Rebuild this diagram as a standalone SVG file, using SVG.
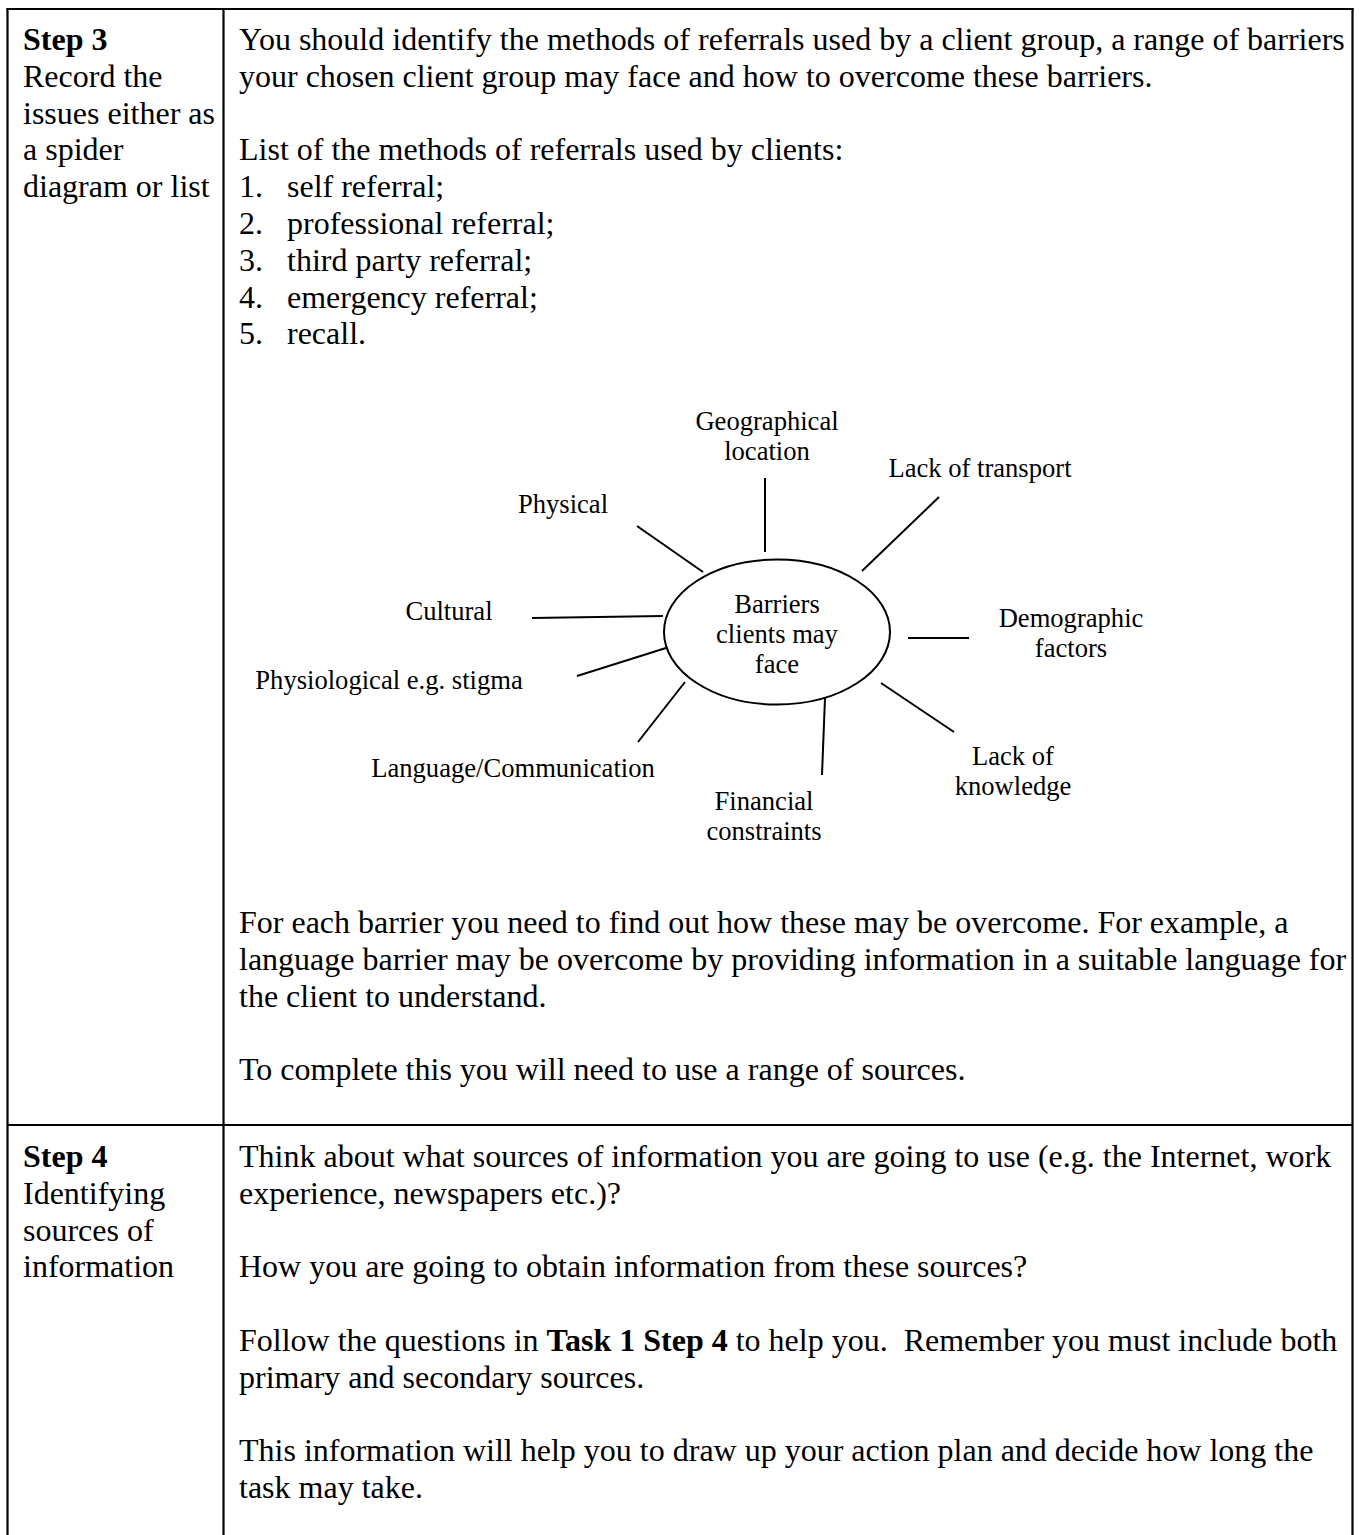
<svg xmlns="http://www.w3.org/2000/svg" width="1362" height="1535" viewBox="0 0 1362 1535">
  <style>
    .t { font-family: "Liberation Serif", "Times New Roman", serif; font-size: 32px; fill: #000; }
    .b { font-weight: bold; }
    .s { font-family: "Liberation Serif", "Times New Roman", serif; font-size: 26.6px; fill: #000; text-anchor: middle; }
    .border { stroke: #000; stroke-width: 2.2; fill: none; }
    .conn { stroke: #000; stroke-width: 2; fill: none; }
  </style>
  <rect width="1362" height="1535" fill="#fff"/>

  <g id="table">
    <line class="border" x1="6.5" y1="9" x2="1353.5" y2="9"/>
    <line class="border" x1="7.5" y1="8" x2="7.5" y2="1535"/>
    <line class="border" x1="1352.5" y1="8" x2="1352.5" y2="1535"/>
    <line class="border" x1="223.5" y1="9" x2="223.5" y2="1535"/>
    <line class="border" x1="7.5" y1="1125" x2="1352.5" y2="1125"/>
  </g>

  <g id="step3-label">
    <text class="t b" x="23" y="50">Step 3</text>
    <text class="t" x="23" y="86.8">Record the</text>
    <text class="t" x="23" y="123.6">issues either as</text>
    <text class="t" x="23" y="160.4">a spider</text>
    <text class="t" x="23" y="197.2">diagram or list</text>
  </g>

  <g id="step3-text">
    <text class="t" x="239" y="50">You should identify the methods of referrals used by a client group, a range of barriers</text>
    <text class="t" x="239" y="86.8">your chosen client group may face and how to overcome these barriers.</text>
    <text class="t" x="239" y="160.4">List of the methods of referrals used by clients:</text>
    <text class="t" x="239" y="197.2">1.</text><text class="t" x="287" y="197.2">self referral;</text>
    <text class="t" x="239" y="234">2.</text><text class="t" x="287" y="234">professional referral;</text>
    <text class="t" x="239" y="270.8">3.</text><text class="t" x="287" y="270.8">third party referral;</text>
    <text class="t" x="239" y="307.6">4.</text><text class="t" x="287" y="307.6">emergency referral;</text>
    <text class="t" x="239" y="344.4">5.</text><text class="t" x="287" y="344.4">recall.</text>
  </g>

  <g id="connectors">
    <line class="conn" x1="765" y1="478" x2="765" y2="552"/>
    <line class="conn" x1="939" y1="497" x2="862" y2="571"/>
    <line class="conn" x1="637" y1="526" x2="703" y2="572"/>
    <line class="conn" x1="532" y1="618" x2="663" y2="616"/>
    <line class="conn" x1="908" y1="638" x2="969" y2="638"/>
    <line class="conn" x1="577" y1="676" x2="666" y2="648"/>
    <line class="conn" x1="638" y1="742" x2="685" y2="682"/>
    <line class="conn" x1="822" y1="775" x2="825" y2="698"/>
    <line class="conn" x1="881" y1="683" x2="954" y2="732"/>
  </g>

  <g id="center">
    <ellipse cx="777" cy="632" rx="113" ry="72.5" fill="#fff" stroke="#000" stroke-width="2"/>
    <text class="s" x="777" y="613">Barriers</text>
    <text class="s" x="777" y="643">clients may</text>
    <text class="s" x="777" y="673">face</text>
  </g>

  <g id="geographical"><text class="s" x="767" y="430">Geographical</text><text class="s" x="767" y="460">location</text></g>
  <g id="transport"><text class="s" x="980" y="477">Lack of transport</text></g>
  <g id="physical"><text class="s" x="563" y="513">Physical</text></g>
  <g id="cultural"><text class="s" x="449" y="620">Cultural</text></g>
  <g id="demographic"><text class="s" x="1071" y="627">Demographic</text><text class="s" x="1071" y="657">factors</text></g>
  <g id="physiological"><text class="s" x="389" y="689">Physiological e.g. stigma</text></g>
  <g id="language"><text class="s" x="513" y="777">Language/Communication</text></g>
  <g id="knowledge"><text class="s" x="1013" y="765">Lack of</text><text class="s" x="1013" y="795">knowledge</text></g>
  <g id="financial"><text class="s" x="764" y="810">Financial</text><text class="s" x="764" y="840">constraints</text></g>

  <g id="step3-text-bottom">
    <text class="t" x="239" y="933">For each barrier you need to find out how these may be overcome. For example, a</text>
    <text class="t" x="239" y="969.8">language barrier may be overcome by providing information in a suitable language for</text>
    <text class="t" x="239" y="1006.6">the client to understand.</text>
    <text class="t" x="239" y="1080.2">To complete this you will need to use a range of sources.</text>
  </g>

  <g id="step4-label">
    <text class="t b" x="23" y="1167">Step 4</text>
    <text class="t" x="23" y="1203.8">Identifying</text>
    <text class="t" x="23" y="1240.6">sources of</text>
    <text class="t" x="23" y="1277.4">information</text>
  </g>

  <g id="step4-text">
    <text class="t" x="239" y="1167">Think about what sources of information you are going to use (e.g. the Internet, work</text>
    <text class="t" x="239" y="1203.8">experience, newspapers etc.)?</text>
    <text class="t" x="239" y="1277.4">How you are going to obtain information from these sources?</text>
    <text class="t" x="239" y="1351" style="white-space:pre">Follow the questions in <tspan class="b">Task 1 Step 4</tspan> to help you.  Remember you must include both</text>
    <text class="t" x="239" y="1387.8">primary and secondary sources.</text>
    <text class="t" x="239" y="1461.4">This information will help you to draw up your action plan and decide how long the</text>
    <text class="t" x="239" y="1498.2">task may take.</text>
  </g>
</svg>
